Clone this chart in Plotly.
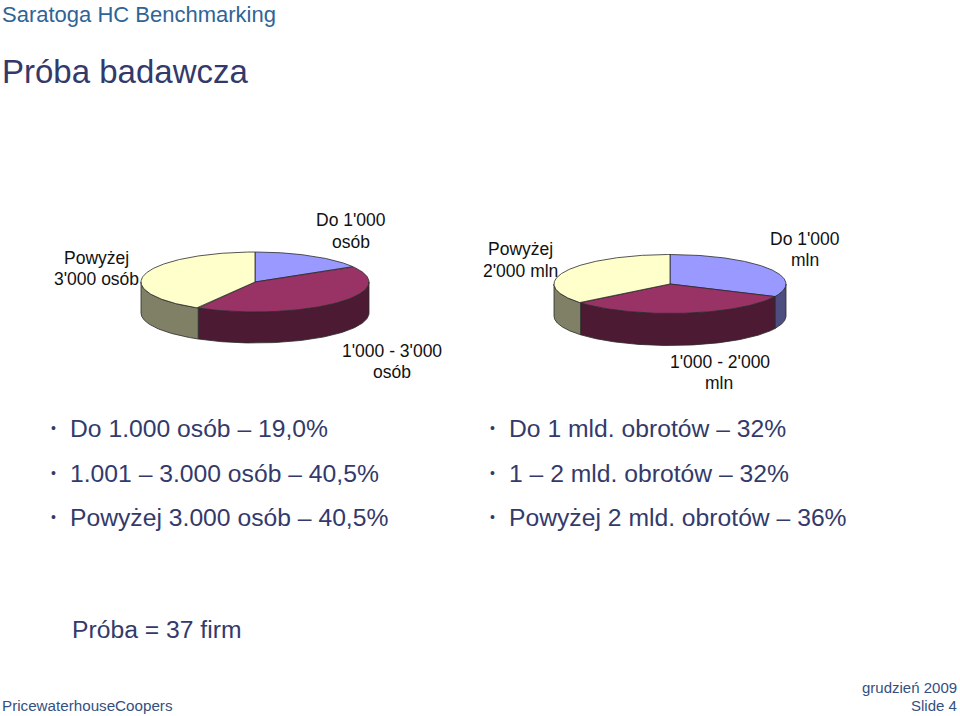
import numpy as np
import plotly.graph_objects as go

FONT = "Liberation Sans"
NAVY = "#333A6B"
FOOT = "#34507F"

# Data (slice sizes as drawn in the picture; the bullets carry the stated percentages)
left_categories = ["Do 1'000 osób", "1'000 - 3'000 osób", "Powyżej 3'000 osób"]
left_values = [16.4, 41.9, 41.7]
right_categories = ["Do 1'000 mln", "1'000 - 2'000 mln", "Powyżej 2'000 mln"]
right_values = [32, 32, 36]
top_colors = ["#9999FF", "#993366", "#FFFFCC"]
side_colors = ["#4D4D80", "#4D1A33", "#808066"]
left_bullets = ["Do 1.000 osób – 19,0%", "1.001 – 3.000 osób – 40,5%", "Powyżej 3.000 osób – 40,5%"]
right_bullets = ["Do 1 mld. obrotów – 32%", "1 – 2 mld. obrotów – 32%", "Powyżej 2 mld. obrotów – 36%"]

fig = go.Figure()


def add_pie(values, colors_top, colors_side, names, cx, cy, rx, ry, depth):
    edges = np.concatenate([[0], np.cumsum(values)]) / np.sum(values) * 2 * np.pi
    # side walls first (only the front half of the rim is visible)
    for i in range(len(values)):
        a0 = max(edges[i], np.pi / 2)
        a1 = min(edges[i + 1], 3 * np.pi / 2)
        if a1 <= a0:
            continue
        t = np.linspace(a0, a1, 120)
        x = cx + rx * np.sin(t)
        y = cy - ry * np.cos(t)
        fig.add_trace(go.Scatter(
            x=np.concatenate([x, x[::-1], x[:1]]),
            y=np.concatenate([y, y[::-1] + depth, y[:1]]),
            mode="lines", fill="toself", fillcolor=colors_side[i],
            line=dict(color="#2a2a2a", width=0.8), hoverinfo="skip", showlegend=False))
    # top faces
    for i in range(len(values)):
        t = np.linspace(edges[i], edges[i + 1], 200)
        x = np.concatenate([[cx], cx + rx * np.sin(t), [cx]])
        y = np.concatenate([[cy], cy - ry * np.cos(t), [cy]])
        fig.add_trace(go.Scatter(
            x=x, y=y, mode="lines", fill="toself", fillcolor=colors_top[i],
            line=dict(color="#2a2a2a", width=0.8), name=names[i],
            hoverinfo="name", showlegend=False))


add_pie(left_values, top_colors, side_colors, left_categories, 255, 282, 114, 30, 31)
add_pie(right_values, top_colors, side_colors, right_categories, 670, 284, 116, 29.5, 32)


def text(s, x, y, size, color="#000000", anchor="center"):
    fig.add_annotation(x=x, y=y, text=s, showarrow=False, xref="x", yref="y",
                       xanchor=anchor, yanchor="middle", align=anchor,
                       font=dict(family=FONT, size=size, color=color))


# header
text("Saratoga HC Benchmarking", 0, 14, 22, "#2F6496", "left")
text("Próba badawcza", 0, 71, 33, NAVY, "left")

# pie labels
for s, x, y in [("Do 1'000", 351, 220), ("osób", 351, 242),
                ("Powyżej", 96, 258), ("3'000 osób", 96, 279),
                ("1'000 - 3'000", 392, 351), ("osób", 392, 372),
                ("Powyżej", 520, 249), ("2'000 mln", 520, 271),
                ("Do 1'000", 805, 239), ("mln", 805, 260),
                ("1'000 - 2'000", 720, 362), ("mln", 719, 383)]:
    text(s, x, y, 17.5, "#111111")

# bullets
for items, bx, tx in [(left_bullets, 53, 68), (right_bullets, 492, 507)]:
    for s, y in zip(items, [428, 473, 517]):
        text("•", bx, y, 14, NAVY)
        text(s, tx, y, 24.7, NAVY, "left")

text("Próba = 37 firm", 70, 629, 24.7, NAVY, "left")
text("PricewaterhouseCoopers", 0, 705, 15.2, FOOT, "left")
text("grudzień 2009", 959, 687, 15, FOOT, "right")
text("Slide 4", 959, 705, 15, FOOT, "right")

fig.update_layout(
    width=960, height=716, margin=dict(l=0, r=0, t=0, b=0),
    paper_bgcolor="white", plot_bgcolor="white",
    xaxis=dict(range=[0, 960], visible=False, fixedrange=True),
    yaxis=dict(range=[716, 0], visible=False, fixedrange=True),
)
fig.write_html("out.html", config={"displayModeBar": False},
               post_script="document.body.style.margin='0';document.body.style.overflow='hidden';")
